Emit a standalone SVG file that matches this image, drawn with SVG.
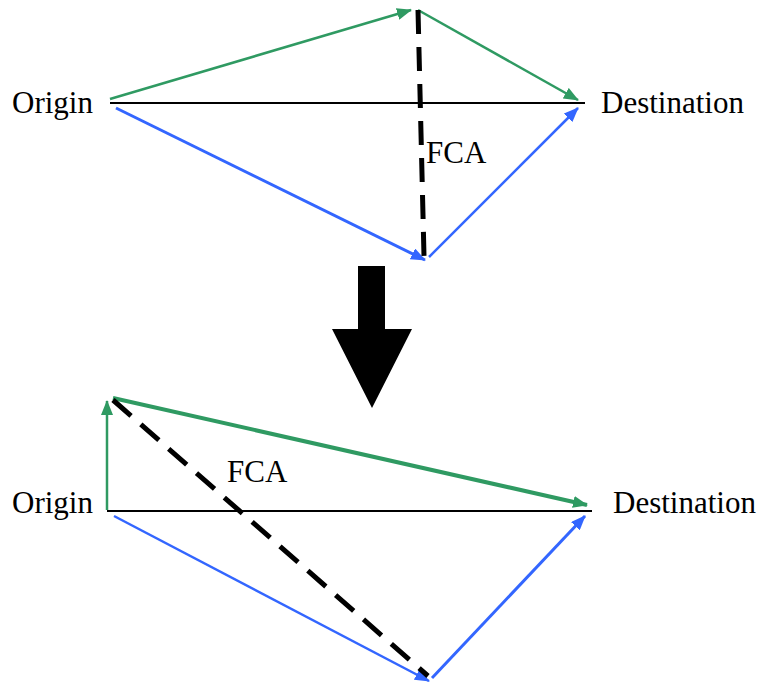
<svg xmlns="http://www.w3.org/2000/svg" width="763" height="683" viewBox="0 0 763 683">
<style>
  text { font-family: "Liberation Serif", "Times New Roman", serif; fill: #000; }
  .lbl { font-size: 31px; }
  .fca { font-size: 31px; }
  .base { stroke: #000; stroke-width: 2; fill: none; }
  .g { stroke: #2f9a62; fill: none; }
  .b { stroke: #3366ff; fill: none; }
  .dash { stroke: #000; stroke-width: 5; stroke-dasharray: 24 13; fill: none; }
</style>
<defs>
  <marker id="ag" markerUnits="userSpaceOnUse" markerWidth="16" markerHeight="12" refX="14" refY="6" orient="auto">
    <path d="M0,0 L15,6 L0,12 Z" fill="#2f9a62"/>
  </marker>
  <marker id="ab" markerUnits="userSpaceOnUse" markerWidth="16" markerHeight="12" refX="14" refY="6" orient="auto">
    <path d="M0,0 L15,6 L0,12 Z" fill="#3366ff"/>
  </marker>
</defs>

<g id="big-arrow">
  <path d="M358,266 L385,266 L385,329 L412,329 L372,408 L332,329 L358,329 Z" fill="#000"/>
</g>

<g id="connectors">
  <!-- top diagram -->
  <line class="base" x1="110" y1="103" x2="585" y2="103"/>
  <line class="g" stroke-width="2.5" x1="110" y1="99" x2="411" y2="10" marker-end="url(#ag)"/>
  <line class="g" stroke-width="2.5" x1="418" y1="10" x2="578" y2="100" marker-end="url(#ag)"/>
  <line class="b" stroke-width="3" x1="116" y1="108" x2="425" y2="260" marker-end="url(#ab)"/>
  <line class="b" stroke-width="2.5" x1="429" y1="257" x2="578" y2="108" marker-end="url(#ab)"/>
  <line class="dash" x1="418" y1="10" x2="424" y2="256"/>
  <!-- bottom diagram -->
  <line class="base" x1="107" y1="511" x2="592" y2="511"/>
  <line class="g" stroke-width="2.5" x1="107" y1="510" x2="107" y2="401" marker-end="url(#ag)"/>
  <line class="g" stroke-width="4" x1="113" y1="398" x2="587" y2="505" marker-end="url(#ag)"/>
  <line class="b" stroke-width="2.5" x1="114" y1="516" x2="429" y2="681" marker-end="url(#ab)"/>
  <line class="b" stroke-width="3" x1="432" y1="678" x2="585" y2="516" marker-end="url(#ab)"/>
  <line class="dash" x1="113" y1="400" x2="428" y2="676"/>
</g>

<g id="origin-top"><text class="lbl" x="12" y="113">Origin</text></g>
<g id="destination-top"><text class="lbl" x="601" y="113">Destination</text></g>
<g id="fca-top"><text class="fca" x="426" y="163">FCA</text></g>

<g id="origin-bottom"><text class="lbl" x="12" y="513">Origin</text></g>
<g id="destination-bottom"><text class="lbl" x="613" y="513">Destination</text></g>
<g id="fca-bottom"><text class="fca" x="227" y="482">FCA</text></g>
</svg>
